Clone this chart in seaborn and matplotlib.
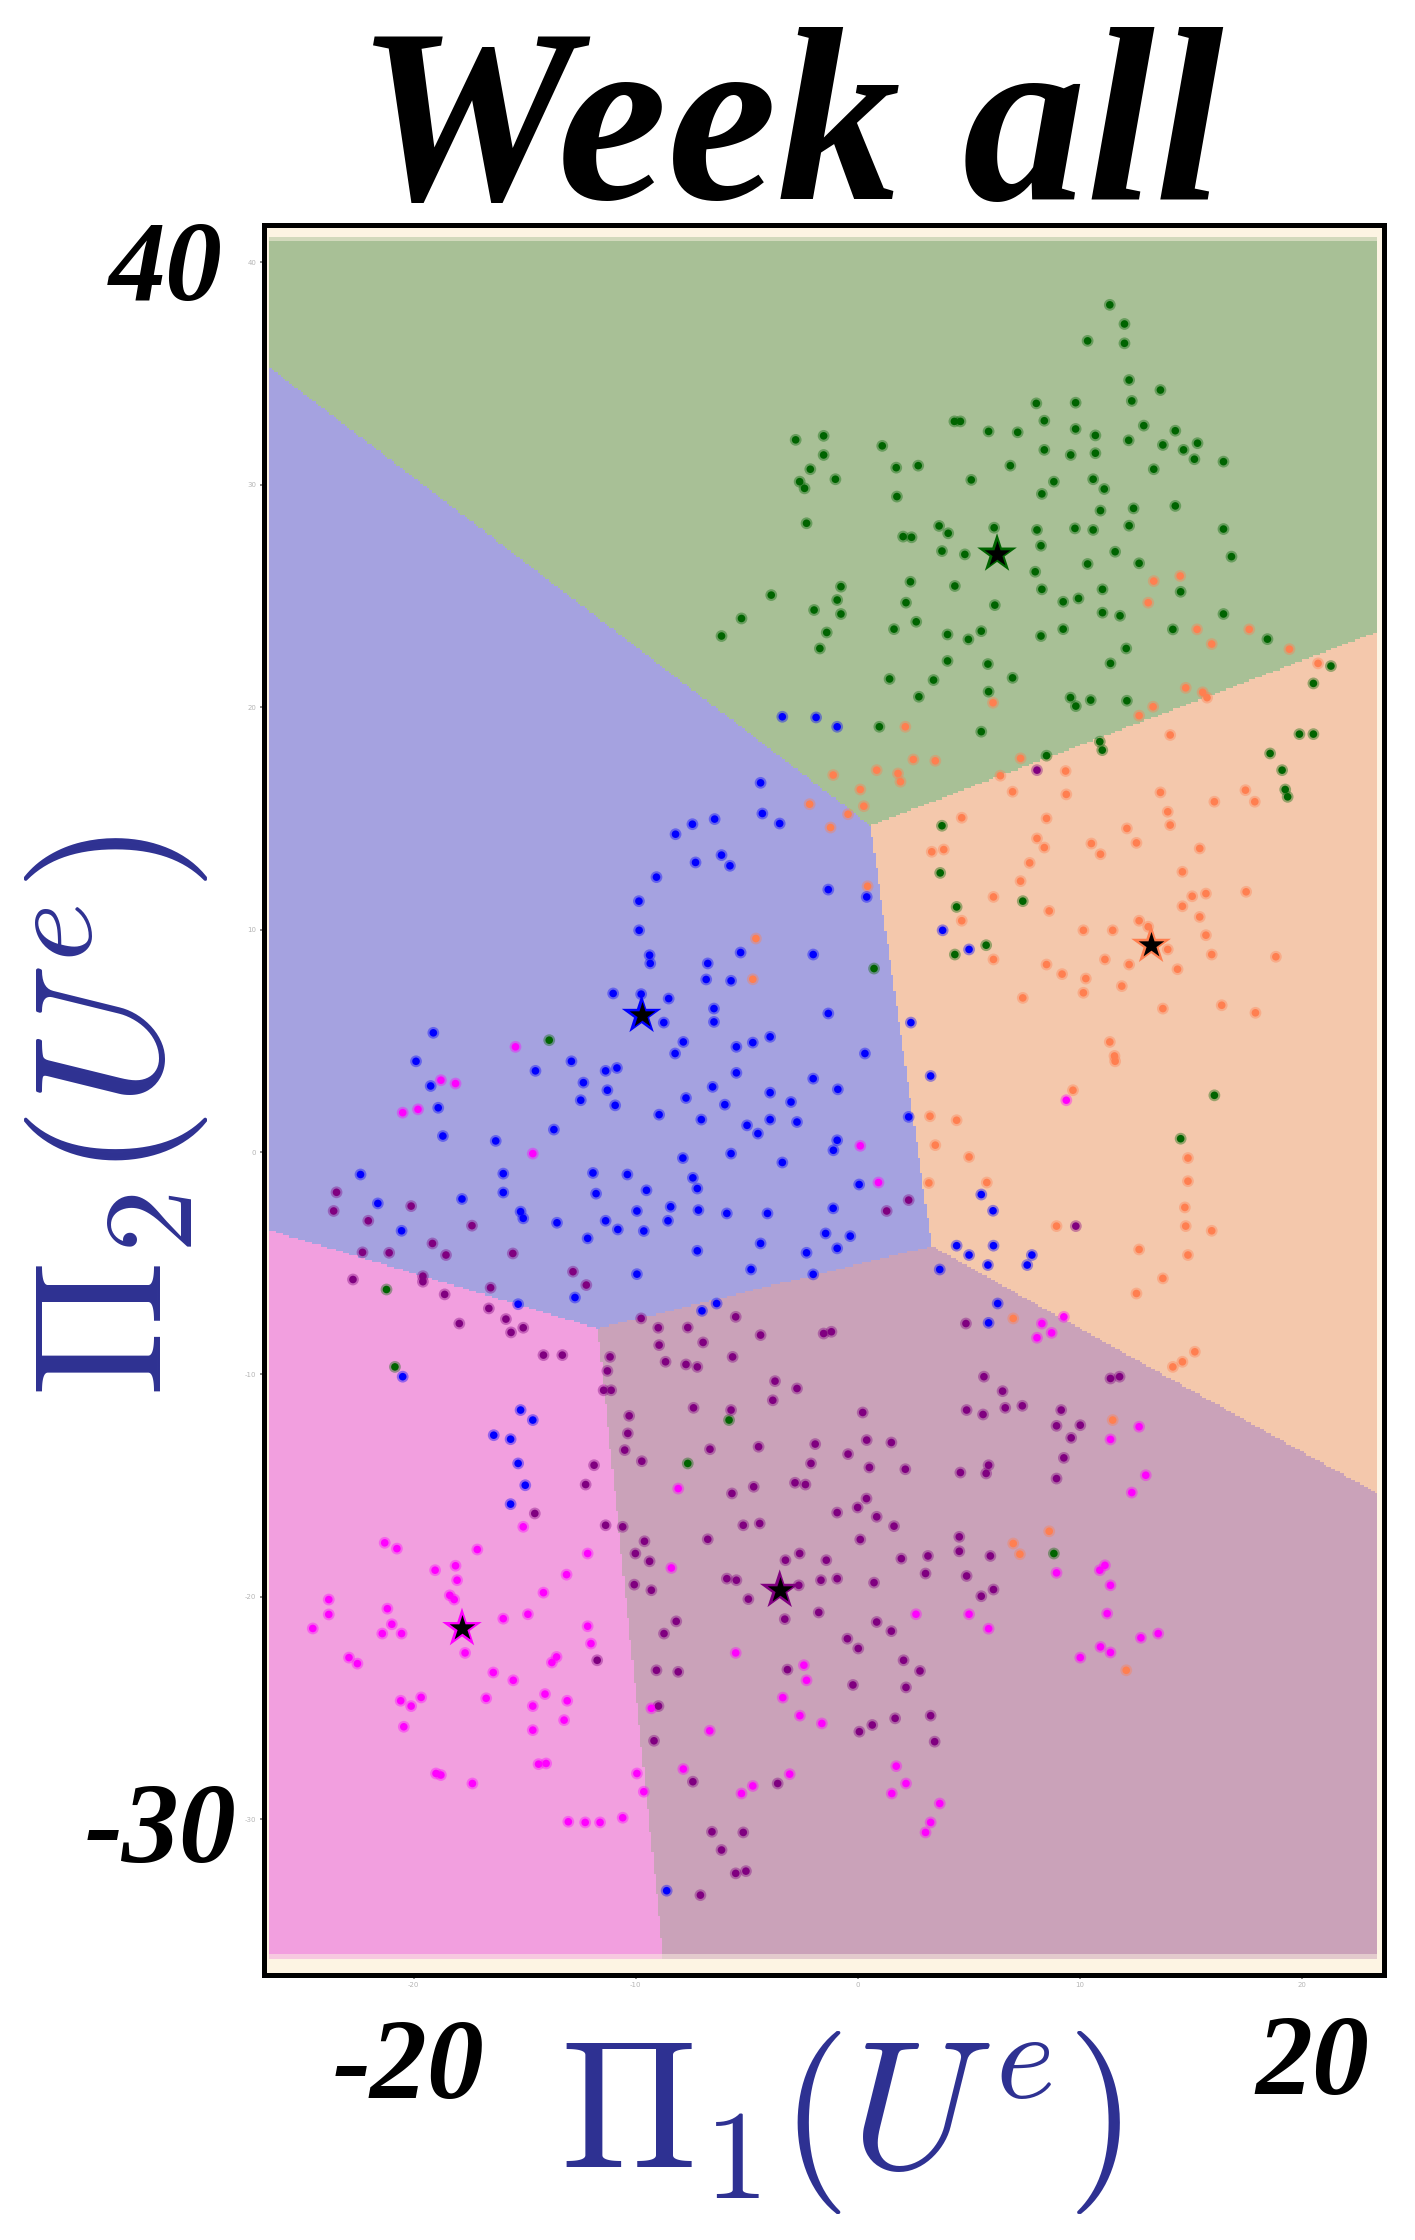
import numpy as np
import pandas as pd
import matplotlib
matplotlib.use("Agg")
import matplotlib.pyplot as plt
from matplotlib.colors import ListedColormap
import seaborn as sns

# ── Data ──────────────────────────────────────────────────────────────────────

clusters = ["green", "orange", "blue", "purple", "magenta"]

center_x = [6.28, 13.22, -9.73, -3.51, -17.82]
center_y = [26.89, 9.30, 6.15, -19.70, -21.42]

# seeds of the shaded regions, read from the region borders
seed_x = [6.10, 12.70, -9.53, -3.25, -17.60]
seed_y = [26.70, 9.40, 6.15, -19.40, -20.90]

green_x = [-2.79, -1.53, -1.53, -2.13, -1.00, -2.61, -2.39, -2.30, -3.89, -0.75,
           -0.92, -0.75, -5.23, -1.96, -6.13, -1.39, -1.70,
           11.36, 12.02, 12.02, 10.36, 12.23, 13.64, 12.35, 8.05, 9.82, 8.41,
           4.36, 4.63, 5.90, 7.21, 9.82, 10.71, 12.89, 14.31, 12.21, 13.75,
           15.31, 14.68, 15.17, 16.48, 1.11, 8.41, 9.60, 10.71, 1.74, 2.73,
           6.88, 13.34, 5.12, 8.84, 10.61, 11.11, 8.30, 1.77, 12.43, 10.94,
           14.31, 3.67, 4.08, 2.05, 2.43, 6.15, 8.08, 9.79, 10.61, 12.23,
           16.48, 3.80, 4.83, 8.26, 11.60, 16.84, 10.36, 12.68, 8.00, 2.38,
           4.38, 8.30, 11.03, 14.55, 9.95, 9.26, 2.18, 6.18, 11.03, 11.82,
           16.48, 2.64, 1.64, 4.05, 5.57, 4.99, 8.26, 9.26, 14.20, 18.46,
           12.10, 4.05, 5.87, 11.39, 1.44, 3.42, 6.98, 5.90, 2.76, 9.59,
           9.83, 10.50, 12.13, 21.32, 20.53,
           0.98, 5.57, 10.91, 11.02, 8.51, 19.90, 20.53, 18.58, 19.12, 19.26,
           19.37, 3.80, 3.72, 7.44, 4.46, 5.79, 4.38, 0.74, 16.07, 14.55,
           -13.89, -21.22, -20.84, -5.79, -7.65, 8.84]
green_y = [32.02, 32.20, 31.34, 30.70, 30.25, 30.14, 29.84, 28.27, 25.04, 25.42,
           24.82, 24.19, 23.99, 24.37, 23.20, 23.36, 22.64,
           38.09, 37.23, 36.36, 36.47, 34.71, 34.26, 33.77, 33.66, 33.69, 32.88,
           32.85, 32.85, 32.40, 32.36, 32.51, 32.22, 32.66, 32.43, 32.00, 31.79,
           31.87, 31.57, 31.15, 31.04, 31.75, 31.57, 31.34, 31.42, 30.77, 30.86,
           30.86, 30.70, 30.22, 30.14, 30.25, 29.81, 29.59, 29.47, 28.94, 28.84,
           29.05, 28.15, 27.82, 27.67, 27.64, 28.07, 27.97, 28.04, 27.97, 28.16,
           28.01, 27.02, 26.87, 27.26, 26.99, 26.77, 26.44, 26.47, 26.09, 25.64,
           25.45, 25.30, 25.30, 25.19, 24.89, 24.74, 24.70, 24.59, 24.25, 24.11,
           24.19, 23.84, 23.51, 23.27, 23.42, 23.05, 23.20, 23.51, 23.50, 23.06,
           22.64, 22.08, 21.94, 21.97, 21.27, 21.22, 21.32, 20.70, 20.47, 20.43,
           20.05, 20.32, 20.29, 21.85, 21.07,
           19.12, 18.90, 18.45, 18.07, 17.82, 18.79, 18.79, 17.92, 17.17, 16.30,
           15.97, 14.67, 12.55, 11.28, 11.02, 9.30, 8.88, 8.25, 2.55, 0.60,
           5.03, -6.18, -9.66, -12.05, -14.00, -18.05]

orange_x = [13.34, 14.53, 13.09, 15.29, 15.95, 17.64, 19.45, 20.74, 14.78, 15.54,
            15.74, 6.10, 13.31,
            12.68, 2.15, 14.08, 2.51, 3.50, 7.34, 0.86, 1.82, 1.93, 6.43,
            9.37, 0.12, 6.98, 9.40, 13.64, 16.07, 17.47, 17.89, 0.28, -0.43,
            4.69, 8.51, 13.97, 14.08, 12.13, 8.08, 8.41, 10.53, 12.56, 10.94,
            3.34, 3.88, 15.41, 7.75, 14.63, 7.34, 0.45, 6.12, 15.07, 15.69,
            17.50, 14.63, 8.63, 4.69, 15.41, 12.68, 13.09, 10.17, 11.49, 15.69,
            13.97, 6.12, 8.51, 11.14, 12.23, 15.95, 18.84, 14.41, 9.21, 10.28,
            11.90, 10.17, 7.44, 13.75, 16.40, 17.92, 11.36, 11.57, 11.60, 9.70,
            3.26, 4.46, 3.50, 5.02, 14.88, 3.21, 5.82, 14.88,
            -1.10, -2.16, -1.22, -4.58, -4.72,
            8.96, 14.74, 14.78, 15.95, 12.68, 14.88, 13.75, 12.56, 7.01, 15.19,
            14.63, 14.20, 11.49, 8.63, 7.01, 7.31, 12.10]
orange_y = [25.67, 25.90, 24.70, 23.50, 22.84, 23.50, 22.61, 21.97, 20.87, 20.67,
            20.43, 20.20, 20.02,
            19.62, 19.12, 18.75, 17.65, 17.59, 17.70, 17.17, 17.02, 16.65, 16.92,
            17.13, 16.30, 16.20, 16.08, 16.17, 15.75, 16.27, 15.75, 15.55, 15.19,
            15.03, 15.00, 15.30, 14.70, 14.55, 14.10, 13.69, 13.87, 13.90, 13.39,
            13.50, 13.60, 13.65, 13.00, 12.60, 12.18, 11.95, 11.47, 11.50, 11.62,
            11.70, 11.05, 10.84, 10.40, 10.57, 10.40, 10.13, 9.97, 9.97, 9.75,
            9.11, 8.66, 8.43, 8.66, 8.43, 8.88, 8.78, 8.22, 8.00, 7.80,
            7.46, 7.16, 6.93, 6.45, 6.60, 6.26, 4.95, 4.32, 4.08, 2.78,
            1.61, 1.43, 0.31, -0.22, -0.27, -1.39, -1.37, -1.31,
            16.95, 15.64, 14.59, 9.60, 7.77,
            -3.33, -2.49, -3.33, -3.54, -4.38, -4.63, -5.68, -6.36, -7.48, -8.98,
            -9.43, -9.66, -12.05, -17.05, -17.60, -18.08, -23.30]

blue_x = [-3.39, -1.87, -0.92, -4.37, -4.29, -3.51, -6.44, -7.44, -8.20, -6.13,
          -5.75, -7.30, -9.06, -1.32, -9.85, -9.84, -9.37, -9.34, -5.27, -2.00,
          -6.75, -6.82, -5.70, -11.01, -9.75, -8.51, -6.47, -6.47, -1.32, -8.73,
          -19.11, -7.85, -3.94, -4.72, -5.46, -8.22, -19.89, -12.89, -14.51, -10.84,
          -11.35, -5.46, -2.00, -12.35, -19.23, -11.27, -6.53, -7.73, -3.94, -0.89,
          -12.47, -5.98, -3.00, -18.89, -10.92, -8.94, -7.04, -3.94, -2.73, -4.98,
          -4.49, -18.68, -13.68, -16.30, -0.92, -1.09, -7.87, -5.70, -3.39, -22.39,
          -15.96, -11.92, -10.37, -7.42, -9.51, -7.22, -15.96, -11.78,
          -17.82, -21.61, -15.18, -15.06, -9.94, -8.42, -7.17, -8.54, -5.89, -4.06,
          -1.10, -13.54, -11.35, -10.80, -9.63, -20.54, -12.16, -1.44, -4.37, -7.22,
          -2.30, -0.92, -0.33, -9.94, -4.80, -2.00, -12.73, -15.29, -6.35, -7.01,
          -20.49, -15.18, -14.63, -16.39, -15.63, -15.29, -14.97, -15.63, -8.60,
          0.41, 3.83, 5.02, 2.40, 0.33, 3.29, 2.30, 0.07, 5.57,
          6.10, 4.46, 6.12, 5.02, 5.87, 7.85, 7.64, 3.70, 6.31, 5.90]
blue_y = [19.57, 19.54, 19.12, 16.60, 15.22, 14.77, 14.97, 14.74, 14.29, 13.35,
          12.87, 13.02, 12.36, 11.80, 11.28, 9.97, 8.85, 8.48, 8.97, 8.88,
          8.48, 7.76, 7.70, 7.13, 7.10, 6.90, 6.45, 5.85, 6.23, 5.82,
          5.36, 4.95, 5.18, 4.92, 4.73, 4.43, 4.08, 4.08, 3.65, 3.78,
          3.65, 3.56, 3.30, 3.12, 2.97, 2.78, 2.93, 2.43, 2.67, 2.82,
          2.33, 2.13, 2.25, 1.99, 2.10, 1.68, 1.46, 1.46, 1.35, 1.20,
          0.83, 0.72, 1.01, 0.50, 0.53, 0.08, -0.27, -0.07, -0.47, -1.01,
          -0.97, -0.94, -1.01, -1.16, -1.72, -1.64, -1.82, -1.87,
          -2.11, -2.31, -2.68, -2.98, -2.65, -2.46, -2.61, -3.09, -2.76, -2.76,
          -2.53, -3.18, -3.09, -3.48, -3.55, -3.54, -3.88, -3.66, -4.11, -4.44,
          -4.53, -4.33, -3.78, -5.49, -5.28, -5.50, -6.54, -6.84, -6.81, -7.14,
          -10.10, -11.60, -12.05, -12.73, -12.91, -14.00, -14.98, -15.83, -33.21,
          11.47, 9.97, 9.11, 5.82, 4.43, 3.42, 1.58, -1.46, -1.91,
          -2.64, -4.21, -4.21, -4.63, -5.08, -4.63, -5.08, -5.28, -6.81, -7.68]

purple_x = [8.08, 2.30, 1.31, 9.83,
            -23.47, -20.11, -23.60, -22.04, -17.37, -19.15, -22.30, -21.10, -18.54, -15.53,
            -22.73, -19.58, -19.58, -18.60, -16.53, -12.82, -12.22, -16.61, -15.84, -17.94,
            -15.06, -15.61, -9.75, -8.98, -7.65, -5.49, -4.37, -1.53, -1.18, -8.94,
            -6.96, -14.15, -13.30, -11.15, -5.63, -8.65, -7.73, -7.22, -11.27, -11.44,
            -11.10, -3.72, -2.73, -3.82, -7.39, -5.70, -10.29, -10.35, -10.49, -6.65,
            -4.46, -1.91, -9.72, -11.87, -2.10, -12.25, -4.68, -2.82, -2.35, -5.66,
            -14.54, -0.92, -11.35, -10.58, -5.15, -4.41, -9.60, -6.75, -10.01, -2.61,
            -9.37, -3.25, -1.41, -5.89, -5.46, -10.06, -9.29, -1.65, -0.92, -2.65,
            -4.92, -1.75, -3.28, -8.17, -8.72, -11.73, -9.06, -8.08, -3.16,
            -8.97, -9.17, -7.42, -3.60, -6.56, -5.15, -6.13, -5.49, -5.03, -7.08,
            4.88, 5.69, 11.39, 11.80, 6.53, 0.23, 4.91, 5.65, 6.65, 7.42,
            9.17, 8.96, 10.03, 9.62, 0.41, 1.52, -0.43, 9.29, 0.53, 2.15,
            4.63, 5.90, 5.79, 8.96, 0.40, 0.00, 0.86, 1.64, 0.12, 4.58,
            4.58, 1.97, 3.17, 5.98, 3.06, 4.91, 0.74, 6.12, 5.57, 0.86,
            1.52, -0.46, 0.03, 2.07, 2.81,
            -0.21, 2.18, 3.29, 1.69, 0.66, 0.08, 3.47]
purple_y = [17.17, -2.16, -2.65, -3.33,
            -1.81, -2.43, -2.65, -3.09, -3.31, -4.11, -4.51, -4.53, -4.63, -4.56,
            -5.73, -5.58, -5.83, -6.40, -6.10, -5.38, -5.98, -7.03, -7.51, -7.71,
            -7.90, -8.11, -7.48, -7.90, -7.89, -7.41, -8.23, -8.16, -8.08, -8.68,
            -8.56, -9.13, -9.13, -9.21, -9.21, -9.43, -9.55, -9.66, -9.84, -10.71,
            -10.71, -10.30, -10.63, -11.16, -11.50, -11.60, -11.86, -12.65, -13.40, -13.36,
            -13.25, -13.13, -13.90, -14.08, -14.00, -14.95, -15.05, -14.87, -14.95, -15.35,
            -16.25, -16.21, -16.78, -16.85, -16.78, -16.70, -17.50, -17.41, -18.05, -18.05,
            -18.40, -18.35, -18.35, -19.18, -19.25, -19.45, -19.70, -19.25, -19.18, -19.48,
            -20.10, -20.70, -21.00, -21.10, -21.65, -22.85, -23.30, -23.37, -23.27,
            -24.91, -26.47, -28.31, -28.39, -30.56, -30.59, -31.38, -32.43, -32.33, -33.41,
            -7.71, -10.10, -10.18, -10.10, -10.75, -11.71, -11.60, -11.80, -11.50, -11.41,
            -11.60, -12.31, -12.28, -12.85, -12.95, -13.06, -13.58, -13.75, -14.18, -14.26,
            -14.41, -14.08, -14.45, -14.68, -15.58, -15.98, -16.40, -16.82, -17.42, -17.30,
            -17.95, -18.28, -18.16, -18.16, -18.95, -19.06, -19.36, -19.67, -19.97, -21.13,
            -21.54, -21.88, -22.32, -22.85, -23.33,
            -23.96, -24.07, -25.34, -25.46, -25.76, -26.06, -26.51]

magenta_x = [-15.41, -18.77, -18.11, -20.49, -19.80, -14.63, 9.40, 0.12, 0.94,
             -15.06, -21.30, -20.75, -17.13, -12.16, -8.08, -8.39, -19.03, -18.11, -13.11,
             -18.04, -18.37, -18.17, -14.15, -23.82, -21.18, -23.82, -14.85, -15.96, -20.98,
             -12.16, -24.54, -21.41, -20.54, -12.01, -17.68, -22.91, -5.49, -13.56, -13.77,
             -22.53, -2.42, -16.41, -15.51, -2.30,
             -19.66, -20.58, -20.11, -16.73, -14.08, -13.08, -14.63, -3.37, -9.29, -13.22,
             -2.60, -1.61, -20.44, -14.63, -6.66, -14.37, -14.03, -7.85, -18.99, -18.77,
             -17.35, -9.94, -3.06, -4.72, -5.23, -9.63, -13.03, -12.27, -11.60, -10.58,
             9.29, 8.30, 8.74, 8.08, 12.68, 11.39, 12.98, 12.35, 11.14, 10.91,
             8.96, 11.39, 2.63, 5.02, 11.24, 5.90, 13.54, 12.76, 10.94, 11.39,
             10.03, 1.74, 2.18, 1.54, 3.70, 3.29, 3.06]
magenta_y = [4.73, 3.23, 3.08, 1.77, 1.92, -0.07, 2.33, 0.28, -1.37,
             -16.85, -17.57, -17.83, -17.87, -18.05, -15.13, -18.70, -18.80, -18.60, -19.00,
             -19.25, -19.93, -20.12, -19.81, -20.12, -20.53, -20.79, -20.78, -20.98, -21.23,
             -21.32, -21.42, -21.65, -21.65, -22.10, -22.52, -22.73, -22.52, -22.70, -22.95,
             -23.00, -23.07, -23.40, -23.75, -23.75,
             -24.52, -24.67, -24.91, -24.56, -24.37, -24.67, -24.91, -24.53, -25.01, -25.54,
             -25.34, -25.69, -25.84, -25.99, -26.02, -27.52, -27.49, -27.74, -27.94, -28.01,
             -28.39, -27.94, -27.97, -28.50, -28.84, -28.76, -30.11, -30.14, -30.14, -29.93,
             -7.41, -7.71, -8.13, -8.35, -12.35, -12.92, -14.53, -15.31, -18.58, -18.80,
             -18.92, -19.48, -20.78, -20.78, -20.75, -21.43, -21.65, -21.84, -22.25, -22.50,
             -22.73, -27.61, -28.39, -28.84, -29.29, -30.14, -30.59]

x_ticks = [-20, -10, 0, 10, 20]
y_ticks = [40, 30, 20, 10, 0, -10, -20, -30]

point_colors = ["#006400", "#FF7F50", "#0000FF", "#800080", "#FF00FF"]
region_colors = ["#A8C096", "#F4C8AC", "#A5A2E0", "#CAA2B9", "#F29FDF"]

W, H = 1415, 2240

# ── Tables ────────────────────────────────────────────────────────────────────

points = pd.concat([
    pd.DataFrame({"pi1": px, "pi2": py, "cluster": name})
    for name, px, py in zip(clusters,
                            [green_x, orange_x, blue_x, purple_x, magenta_x],
                            [green_y, orange_y, blue_y, purple_y, magenta_y])
], ignore_index=True)
centers = pd.DataFrame({"pi1": center_x, "pi2": center_y, "cluster": clusters})
palette = dict(zip(clusters, point_colors))


def nearest_seed(xs, ys):
    # decision regions: every grid cell belongs to its closest seed
    xx, yy = np.meshgrid(xs, ys)
    dist = [(xx - cx) ** 2 + (yy - cy) ** 2 for cx, cy in zip(seed_x, seed_y)]
    return xx, yy, np.argmin(dist, axis=0)


# ── Figure ────────────────────────────────────────────────────────────────────

sns.set_style("white")
plt.rcParams["mathtext.fontset"] = "cm"
plt.rcParams["axes.unicode_minus"] = False

fig = plt.figure(figsize=(W / 100, H / 100), dpi=100, facecolor="white")
left, right, top, bottom = 263.5, 1384, 225, 1975
ax = fig.add_axes([left / W, 1 - bottom / H, (right - left) / W, (bottom - top) / H])
ax.set_facecolor("#FDF4E3")
ax.set_xlim(-26.76, 23.71)
ax.set_ylim(-37.0, 41.68)

cmap = ListedColormap(region_colors)
# pale rim around the mesh, then the mesh itself
xx, yy, zz = nearest_seed(np.arange(-26.44, 23.37, 0.1), np.arange(-36.22, 41.15, 0.1))
ax.pcolormesh(xx, yy, zz, cmap=cmap, vmin=-0.5, vmax=4.5, shading="nearest", alpha=0.5,
              linewidth=0, rasterized=True, zorder=1)
xx, yy, zz = nearest_seed(np.arange(-26.44, 23.37, 0.1), np.arange(-36.0, 40.93, 0.1))
ax.pcolormesh(xx, yy, zz, cmap=cmap, vmin=-0.5, vmax=4.5, shading="nearest",
              linewidth=0, rasterized=True, zorder=1.5)

# soft halo plus solid core, the points look blurred in the source
sns.scatterplot(data=points, x="pi1", y="pi2", hue="cluster", palette=palette,
                s=72, alpha=0.38, linewidth=0, legend=False, ax=ax, zorder=2)
sns.scatterplot(data=points, x="pi1", y="pi2", hue="cluster", palette=palette,
                s=30, linewidth=0, legend=False, ax=ax, zorder=3)
sns.scatterplot(data=centers, x="pi1", y="pi2", hue="cluster", palette=palette,
                marker="*", s=900, linewidth=0, legend=False, ax=ax, zorder=4)
sns.scatterplot(data=centers, x="pi1", y="pi2", color="black",
                marker="*", s=380, linewidth=0, legend=False, ax=ax, zorder=5)

ax.set_xticks(x_ticks)
ax.set_yticks(y_ticks)
ax.tick_params(length=3.2, width=1.2, color="#777777", labelsize=5,
               labelcolor="#B5B5B5", pad=2, bottom=True, left=True)
for spine in ax.spines.values():
    spine.set_visible(True)
    spine.set_color("black")
    spine.set_linewidth(3.6)

# ── Text ──────────────────────────────────────────────────────────────────────

serif = "Liberation Serif"
ax.set_title("Week all", fontsize=178, family=serif, weight="bold", style="italic",
             x=(790 - left) / (right - left), pad=19, color="black")

ax.set_xlabel(r"$\Pi_1(U^e)$", fontsize=131, color="#2E3192", va="center", ha="center")
ax.xaxis.set_label_coords((841 - left) / (right - left), 1 - (2122 - top) / (bottom - top))
ax.set_ylabel(r"$\Pi_2(U^e)$", fontsize=131, color="#2E3192", va="center", ha="center",
              rotation=90)
ax.yaxis.set_label_coords((117 - left) / (right - left), 1 - (1116 - top) / (bottom - top))

for label, cx, base in [("40", 166, 300), ("-30", 161, 1862),
                        ("-20", 409, 2098), ("20", 1312, 2094)]:
    fig.text(cx / W, 1 - base / H, label, fontsize=82, family=serif, weight="bold",
             style="italic", ha="center", va="baseline", color="black")

fig.savefig("out.png", dpi=100)
